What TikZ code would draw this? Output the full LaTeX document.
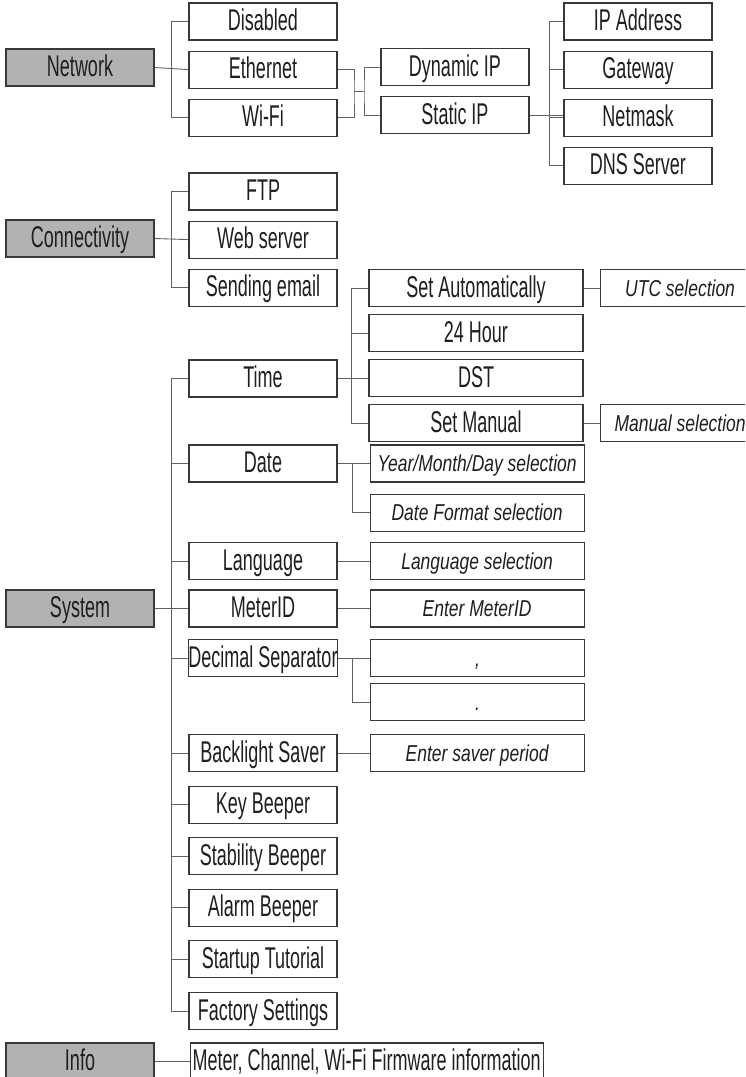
\documentclass[tikz,border=0pt]{standalone}
\usepackage{fontspec}
\setmainfont[FakeStretch=0.6]{Liberation Sans}
\newfontfamily\selfont[FakeStretch=0.76]{Liberation Sans}
\usepackage{tikz}
\usetikzlibrary{positioning}

\definecolor{boxline}{gray}{0.22}
\definecolor{linkgray}{gray}{0.38}
\definecolor{topfill}{gray}{0.70}
\definecolor{menutext}{gray}{0.12}

\begin{document}
\begin{tikzpicture}[
  x=1pt, y=-1pt,
  item/.style={draw=boxline, line width=1.1pt, fill=white, text=menutext, inner sep=0pt,
    minimum width=148pt, minimum height=37pt, text height=18pt, text depth=0pt,
    font=\fontsize{30}{33}\selectfont},
  topbox/.style={item, fill=topfill},
  widebox/.style={item, minimum width=214pt},
  selbox/.style={item, minimum width=214pt, text height=16pt,
    font=\selfont\itshape\fontsize{23}{26}\selectfont},
  edgebox/.style={selbox, minimum width=160pt},
  link/.style={draw=linkgray, line width=0.9pt}
]
\useasboundingbox (0,0) rectangle (745,1077);
\clip (0,0) rectangle (745,1077);

% Network
\node[topbox] (net) at (80,67.5) {Network};
\node[item] (dis) at (263,21.5) {Disabled};
\node[item, below=10pt of dis] (eth) {Ethernet};
\node[item, below=10pt of eth] (wifi) {Wi-Fi};
\node[item] (dyn) at (455,67) {Dynamic IP};
\node[item, below=10pt of dyn] (stat) {Static IP};
\node[item] (ipa) at (638,21.5) {IP Address};
\node[item, below=10pt of ipa] (gw) {Gateway};
\node[item, below=10pt of gw] (nm) {Netmask};
\node[item, below=10pt of nm] (dns) {DNS Server};
\coordinate (jip) at (354,91.5);
\coordinate (jdyn) at (364,91.5);

\draw[link] (net.east) -- (eth.west);
\draw[link] (dis.west) -- ++(-17,0) |- (wifi.west);
\draw[link] (eth.east) -| (jip) |- (wifi.east);
\draw[link] (jip) -- (jdyn);
\draw[link] (dyn.west) -| (jdyn) |- (stat.west);
\draw[link] (stat.east) -- (stat.east -| nm.west);
\draw[link] (ipa.west) -- ++(-14,0) |- (dns.west);
\foreach \n in {gw,nm} \draw[link] (\n.west) -- ++(-14,0);

% Connectivity
\node[topbox] (conn) at (80,238.5) {Connectivity};
\node[item] (ftp) at (263,191.5) {FTP};
\node[item, below=10pt of ftp] (web) {Web server};
\node[item, below=10pt of web] (mail) {Sending email};

\draw[link] (conn.east) -- (web.west);
\draw[link] (ftp.west) -- ++(-17,0) |- (mail.west);

% System
\node[topbox] (sys) at (80,608.5) {System};
\node[item] (time) at (263,378.5) {Time};
\node[widebox] (setauto) at (476,288) {Set Automatically};
\node[widebox, below=7pt of setauto] (h24) {24 Hour};
\node[widebox, below=7pt of h24] (dst) {DST};
\node[widebox, below=7pt of dst] (setman) {Set Manual};
\node[edgebox, anchor=west, right=16pt of setauto] (utc) {UTC selection};
\node[edgebox, anchor=west, right=16pt of setman] (mansel) {Manual selection};

\node[item] (date) at (263,463.5) {Date};
\node[selbox, right=32pt of date] (ymd) {Year/Month/Day selection};
\node[selbox, below=11pt of ymd] (dfmt) {Date Format selection};
\node[item] (lang) at (263,561) {Language};
\node[selbox, right=32pt of lang] (langsel) {Language selection};
\node[item] (mid) at (263,608.5) {MeterID};
\node[selbox, right=32pt of mid] (entid) {Enter MeterID};
\node[item] (dec) at (263,658) {Decimal Separator};
\node[selbox, right=32pt of dec] (comma) {,};
\node[selbox, below=6pt of comma] (dot) {.};
\node[item] (bl) at (263,753) {Backlight Saver};
\node[selbox, right=32pt of bl] (saver) {Enter saver period};
\node[item, below=13.5pt of bl] (key) {Key Beeper};
\node[item, below=13.5pt of key] (stab) {Stability Beeper};
\node[item, below=13.5pt of stab] (alarm) {Alarm Beeper};
\node[item, below=13.5pt of alarm] (start) {Startup Tutorial};
\node[item, below=13.5pt of start] (fact) {Factory Settings};

\draw[link] (sys.east) -- (mid.west);
\draw[link] (time.west) -- ++(-17,0) |- (fact.west);
\foreach \n in {date,lang,mid,dec,bl,key,stab,alarm,start} \draw[link] (\n.west) -- ++(-17,0);
\draw[link] (time.east) -- (time.east -| dst.west);
\draw[link] (setauto.west) -- ++(-17,0) |- (setman.west);
\draw[link] (h24.west) -- ++(-17,0);
\draw[link] (setauto) -- (utc);
\draw[link] (setman) -- (mansel);
\draw[link] (date.east) -- (ymd.west);
\draw[link] (ymd.west) -- ++(-17,0) |- (dfmt.west);
\draw[link] (lang) -- (langsel);
\draw[link] (mid) -- (entid);
\draw[link] (dec.east) -- (comma.west);
\draw[link] (comma.west) -- ++(-18,0) |- (dot.west);
\draw[link] (bl) -- (saver);

% Info
\node[topbox] (info) at (80,1061.5) {Info};
\node[item, minimum width=353pt, right=35pt of info] (fw) {Meter, Channel, Wi-Fi Firmware information};
\draw[link] (info) -- (fw);
\end{tikzpicture}
\end{document}
